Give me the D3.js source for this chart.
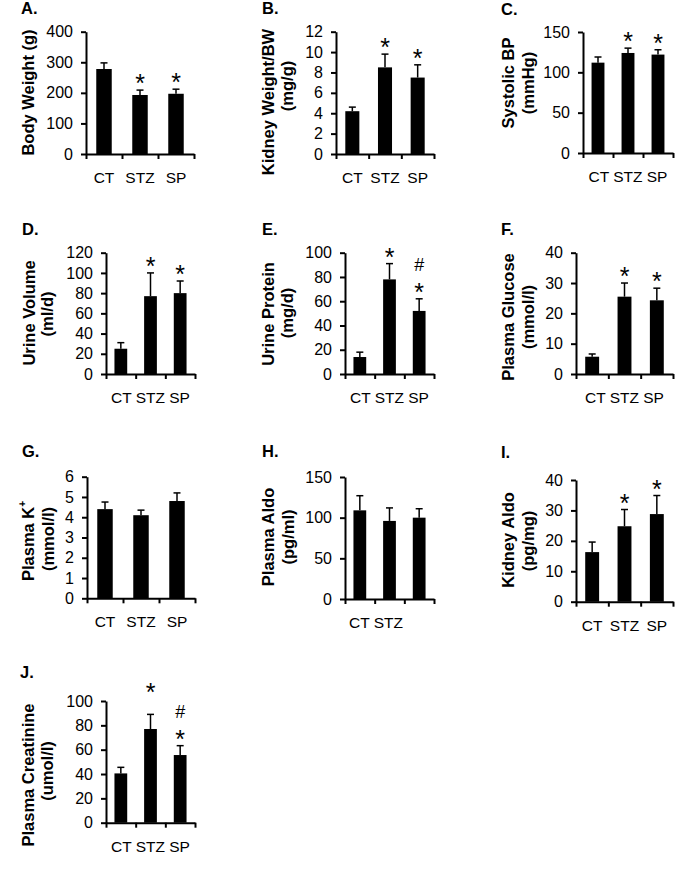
<!DOCTYPE html>
<html>
<head>
<meta charset="utf-8">
<script src="https://cdn.jsdelivr.net/npm/d3@7"></script>
<style>
  html, body { margin: 0; padding: 0; background: #fff; }
  svg { display: block; font-family: "Liberation Sans", Arial, sans-serif; }
</style>
</head>
<body>
<script>
// ---------------- DATA ----------------
const categories = ["CT", "STZ", "SP"];

const bodyWeight = [278, 193, 197];
const bodyWeightErr = [20, 16, 15];
const bodyWeightTicks = [0, 100, 200, 300, 400];
const bodyWeightMarks = ["", "*", "*"];
const bodyWeightTitle = ["Body Weight (g)"];

const kidneyWeight = [4.2, 8.5, 7.5];
const kidneyWeightErr = [0.4, 1.3, 1.25];
const kidneyWeightTicks = [0, 2, 4, 6, 8, 10, 12];
const kidneyWeightMarks = ["", "*", "*"];
const kidneyWeightTitle = ["Kidney Weight/BW", "(mg/g)"];

const systolicBP = [112, 124, 122];
const systolicBPErr = [7, 6, 6];
const systolicBPTicks = [0, 50, 100, 150];
const systolicBPMarks = ["", "*", "*"];
const systolicBPTitle = ["Systolic BP", "(mmHg)"];

const urineVolume = [25, 77, 80];
const urineVolumeErr = [6, 23, 12];
const urineVolumeTicks = [0, 20, 40, 60, 80, 100, 120];
const urineVolumeMarks = ["", "*", "*"];
const urineVolumeTitle = ["Urine Volume", "(ml/d)"];

const urineProtein = [14, 78, 52];
const urineProteinErr = [4, 13, 10];
const urineProteinTicks = [0, 20, 40, 60, 80, 100];
const urineProteinMarks = ["", "*", "#*"];
const urineProteinTitle = ["Urine Protein", "(mg/d)"];

const plasmaGlucose = [5.7, 25.5, 24.3];
const plasmaGlucoseErr = [0.9, 4.5, 4.0];
const plasmaGlucoseTicks = [0, 10, 20, 30, 40];
const plasmaGlucoseMarks = ["", "*", "*"];
const plasmaGlucoseTitle = ["Plasma Glucose", "(mmol/l)"];

const plasmaK = [4.4, 4.1, 4.8];
const plasmaKErr = [0.35, 0.25, 0.4];
const plasmaKTicks = [0, 1, 2, 3, 4, 5, 6];
const plasmaKMarks = ["", "", ""];
const plasmaKTitle = ["Plasma K|+", "(mmol/l)"];

const plasmaAldo = [109, 96, 100];
const plasmaAldoErr = [18, 16, 11];
const plasmaAldoTicks = [0, 50, 100, 150];
const plasmaAldoMarks = ["", "", ""];
const plasmaAldoTitle = ["Plasma Aldo", "(pg/ml)"];
const plasmaAldoCats = ["CT", "STZ"];

const kidneyAldo = [16.3, 24.8, 28.8];
const kidneyAldoErr = [3.3, 5.5, 6.1];
const kidneyAldoTicks = [0, 10, 20, 30, 40];
const kidneyAldoMarks = ["", "*", "*"];
const kidneyAldoTitle = ["Kidney Aldo", "(pg/mg)"];

const plasmaCreatinine = [40.5, 77, 55.6];
const plasmaCreatinineErr = [5, 12, 7.7];
const plasmaCreatinineTicks = [0, 20, 40, 60, 80, 100];
const plasmaCreatinineMarks = ["", "*", "#*"];
const plasmaCreatinineTitle = ["Plasma Creatinine", "(umol/l)"];

// ---------------- LAYOUT ----------------
const panels = [
  { letter: "A.", lx: 21, ly: 14, x0: 86, x1: 194, yTop: 31.7, y0: 154, vals: bodyWeight, errs: bodyWeightErr, ticks: bodyWeightTicks, marks: bodyWeightMarks, title: bodyWeightTitle, tx: [28], ty: [92.5], cat: "spaced" },
  { letter: "B.", lx: 262, ly: 14, x0: 336, x1: 434, yTop: 31.7, y0: 154, vals: kidneyWeight, errs: kidneyWeightErr, ticks: kidneyWeightTicks, marks: kidneyWeightMarks, title: kidneyWeightTitle, tx: [268, 287], ty: [102, 86], cat: "spaced" },
  { letter: "C.", lx: 501, ly: 15, x0: 583, x1: 673, yTop: 32, y0: 153, vals: systolicBP, errs: systolicBPErr, ticks: systolicBPTicks, marks: systolicBPMarks, title: systolicBPTitle, tx: [508, 528], ty: [83, 83], cat: "compact" },
  { letter: "D.", lx: 22, ly: 235, x0: 106, x1: 195, yTop: 252.7, y0: 374, vals: urineVolume, errs: urineVolumeErr, ticks: urineVolumeTicks, marks: urineVolumeMarks, title: urineVolumeTitle, tx: [29, 47], ty: [313, 314], cat: "compact" },
  { letter: "E.", lx: 262, ly: 235, x0: 345, x1: 434, yTop: 252.7, y0: 374, vals: urineProtein, errs: urineProteinErr, ticks: urineProteinTicks, marks: urineProteinMarks, title: urineProteinTitle, tx: [268, 287], ty: [314, 313], cat: "compact" },
  { letter: "F.", lx: 501, ly: 235, x0: 576, x1: 673, yTop: 252.7, y0: 374, vals: plasmaGlucose, errs: plasmaGlucoseErr, ticks: plasmaGlucoseTicks, marks: plasmaGlucoseMarks, title: plasmaGlucoseTitle, tx: [508, 528], ty: [317, 317], cat: "compact" },
  { letter: "G.", lx: 22, ly: 457, x0: 87, x1: 195, yTop: 476.7, y0: 598.3, vals: plasmaK, errs: plasmaKErr, ticks: plasmaKTicks, marks: plasmaKMarks, title: plasmaKTitle, tx: [28, 48], ty: [541, 539], cat: "spaced" },
  { letter: "H.", lx: 262, ly: 457, x0: 345, x1: 434, yTop: 477, y0: 599, vals: plasmaAldo, errs: plasmaAldoErr, ticks: plasmaAldoTicks, marks: plasmaAldoMarks, title: plasmaAldoTitle, tx: [268, 288], ty: [537, 537], cat: "partial", cats: plasmaAldoCats },
  { letter: "I.", lx: 501, ly: 458, x0: 576, x1: 673, yTop: 480, y0: 601.7, vals: kidneyAldo, errs: kidneyAldoErr, ticks: kidneyAldoTicks, marks: kidneyAldoMarks, title: kidneyAldoTitle, tx: [508, 528], ty: [540, 541], cat: "spaced" },
  { letter: "J.", lx: 20, ly: 678, x0: 106, x1: 195, yTop: 701, y0: 822.7, vals: plasmaCreatinine, errs: plasmaCreatinineErr, ticks: plasmaCreatinineTicks, marks: plasmaCreatinineMarks, title: plasmaCreatinineTitle, tx: [28, 47], ty: [775, 771], cat: "compact", lift: [0, 15, 0] }
];

// ---------------- DRAW ----------------
const svg = d3.select("body").append("svg")
  .attr("width", 690).attr("height", 871);

panels.forEach(p => {
  const g = svg.append("g");
  const y = d3.scaleLinear().domain([0, d3.max(p.ticks)]).range([p.y0, p.yTop]);
  const xb = d3.scaleBand().domain(categories).range([p.x0, p.x1])
    .paddingInner(0.57).paddingOuter(0.285);
  const xl = d3.scaleLinear().domain([0, categories.length]).range([p.x0, p.x1]);
  const cx = i => xb(categories[i]) + xb.bandwidth() / 2;

  // panel letter
  g.append("text").attr("x", p.lx).attr("y", p.ly)
    .attr("font-size", 16.5).attr("font-weight", "bold").attr("fill", "#000")
    .text(p.letter);

  // bars
  g.selectAll("rect.bar").data(p.vals).join("rect")
    .attr("class", "bar")
    .attr("x", (d, i) => xb(categories[i]))
    .attr("y", d => y(d))
    .attr("width", xb.bandwidth())
    .attr("height", d => y(0) - y(d))
    .attr("fill", "#000");

  // error bars (upper only)
  const eb = g.selectAll("g.err").data(p.vals).join("g").attr("class", "err");
  eb.append("line")
    .attr("x1", (d, i) => cx(i)).attr("x2", (d, i) => cx(i))
    .attr("y1", d => y(d)).attr("y2", (d, i) => y(d + p.errs[i]))
    .attr("stroke", "#000").attr("stroke-width", 1.5);
  eb.append("line")
    .attr("x1", (d, i) => cx(i) - 3.5).attr("x2", (d, i) => cx(i) + 3.5)
    .attr("y1", (d, i) => y(d + p.errs[i])).attr("y2", (d, i) => y(d + p.errs[i]))
    .attr("stroke", "#000").attr("stroke-width", 1.5);

  // significance marks
  p.marks.forEach((m, i) => {
    if (!m) return;
    const capY = y(p.vals[i] + p.errs[i]);
    const lift = p.lift ? p.lift[i] : 0;
    if (m.includes("*")) {
      g.append("text").attr("x", cx(i)).attr("y", capY + 2 - lift)
        .attr("text-anchor", "middle").attr("font-size", 25).attr("fill", "#000")
        .text("*");
    }
    if (m.includes("#")) {
      g.append("text").attr("x", cx(i)).attr("y", capY - 28 - lift)
        .attr("text-anchor", "middle").attr("font-size", 18).attr("fill", "#000")
        .text("#");
    }
  });

  // y axis
  const ya = g.append("g").attr("transform", `translate(${p.x0},0)`)
    .call(d3.axisLeft(y).tickValues(p.ticks).tickFormat(d => String(d))
      .tickSize(5).tickSizeOuter(0).tickPadding(8));
  // x axis (ticks at category boundaries)
  const xa = g.append("g").attr("transform", `translate(0,${p.y0})`)
    .call(d3.axisBottom(xl).tickValues(d3.range(categories.length + 1)).tickFormat("").tickSize(5).tickSizeOuter(0));
  [ya, xa].forEach(a => {
    a.select(".domain").attr("stroke", "#000").attr("stroke-width", 2);
    a.selectAll(".tick line").attr("stroke", "#000").attr("stroke-width", 2);
    a.selectAll(".tick text").attr("font-size", 16).attr("fill", "#000")
      .attr("font-family", "Liberation Sans, Arial, sans-serif");
  });

  // category labels
  const catY = p.y0 + 29;
  if (p.cat === "spaced") {
    g.selectAll("text.cat").data(categories).join("text").attr("class", "cat")
      .attr("x", d => xb(d) + xb.bandwidth() / 2).attr("y", catY)
      .attr("text-anchor", "middle").attr("font-size", 15.5).attr("fill", "#000")
      .text(d => d);
  } else if (p.cat === "compact") {
    g.append("text").attr("x", (p.x0 + p.x1) / 2).attr("y", catY)
      .attr("text-anchor", "middle").attr("font-size", 15.5).attr("fill", "#000")
      .text(categories.join(" "));
  } else {
    g.append("text").attr("x", p.x0 + 4).attr("y", catY)
      .attr("text-anchor", "start").attr("font-size", 15.5).attr("fill", "#000")
      .text(p.cats.join(" "));
  }

  // axis titles (rotated)
  p.title.forEach((t, k) => {
    const tt = g.append("text")
      .attr("transform", `translate(${p.tx[k]},${p.ty[k]}) rotate(-90)`)
      .attr("text-anchor", "middle").attr("dominant-baseline", "central")
      .attr("font-size", 16.5).attr("font-weight", "bold").attr("fill", "#000");
    if (t.includes("|")) {
      const [a, b] = t.split("|");
      tt.append("tspan").text(a);
      tt.append("tspan").attr("font-size", 10).attr("dy", -6).text(b);
    } else {
      tt.text(t);
    }
  });
});
</script>
</body>
</html>
